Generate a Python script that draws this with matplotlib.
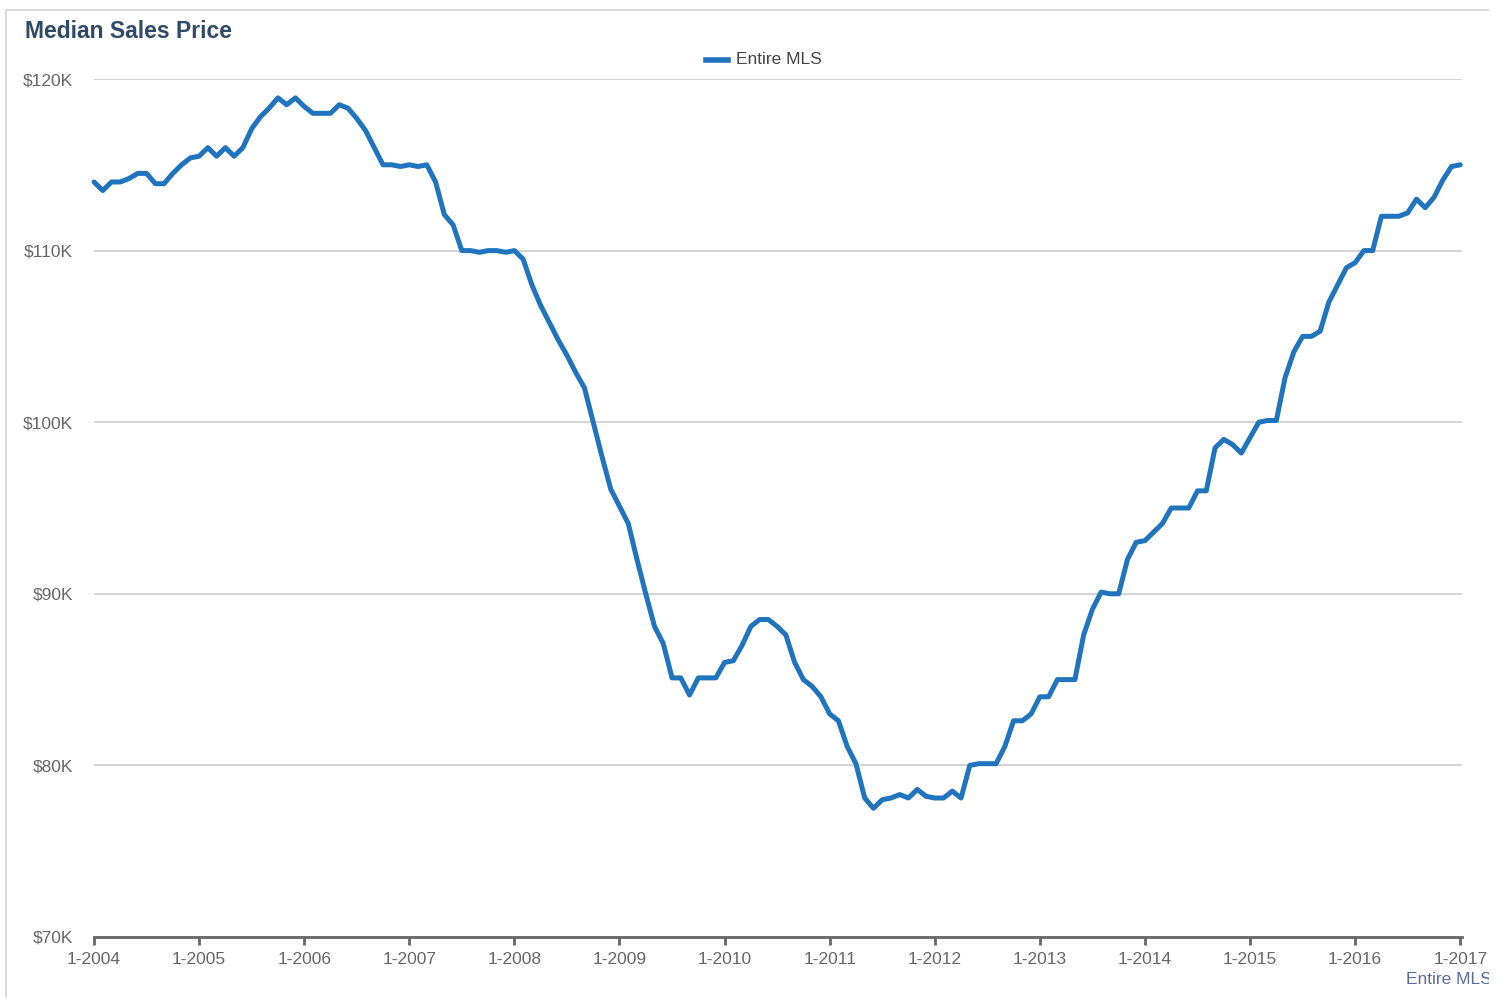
import matplotlib
matplotlib.use("Agg")
import matplotlib.pyplot as plt
from matplotlib.lines import Line2D
from matplotlib.patches import Rectangle
import numpy as np

plt.rcParams['font.family'] = ['Liberation Sans', 'DejaVu Sans']

years = list(range(2004, 2018))
tick_labels = [f"1-{y}" for y in years]
y_ticks = [70, 80, 90, 100, 110, 120]
y_tick_labels = [f"${v}K" for v in y_ticks]

v2004 = [114.0, 113.5, 114.0, 114.0, 114.2, 114.5, 114.5, 113.9, 113.9, 114.5, 115.0, 115.4]
v2005 = [115.5, 116.0, 115.5, 116.0, 115.5, 116.0, 117.1, 117.8, 118.3, 118.9, 118.5, 118.9]
v2006 = [118.4, 118.0, 118.0, 118.0, 118.5, 118.3, 117.7, 117.0, 116.0, 115.0, 115.0, 114.9]
v2007 = [115.0, 114.9, 115.0, 114.0, 112.1, 111.5, 110.0, 110.0, 109.9, 110.0, 110.0, 109.9]
v2008 = [110.0, 109.5, 108.0, 106.8, 105.8, 104.8, 103.9, 102.9, 102.0, 100.0, 98.0, 96.1]
v2009 = [95.1, 94.1, 92.0, 90.0, 88.1, 87.1, 85.1, 85.1, 84.1, 85.1, 85.1, 85.1]
v2010 = [86.0, 86.1, 87.0, 88.1, 88.5, 88.5, 88.1, 87.6, 86.0, 85.0, 84.6, 84.0]
v2011 = [83.0, 82.6, 81.1, 80.1, 78.1, 77.5, 78.0, 78.1, 78.3, 78.1, 78.6, 78.2]
v2012 = [78.1, 78.1, 78.5, 78.1, 80.0, 80.1, 80.1, 80.1, 81.1, 82.6, 82.6, 83.0]
v2013 = [84.0, 84.0, 85.0, 85.0, 85.0, 87.6, 89.1, 90.1, 90.0, 90.0, 92.0, 93.0]
v2014 = [93.1, 93.6, 94.1, 95.0, 95.0, 95.0, 96.0, 96.0, 98.5, 99.0, 98.7, 98.2]
v2015 = [99.1, 100.0, 100.1, 100.1, 102.6, 104.1, 105.0, 105.0, 105.3, 107.0, 108.0, 109.0]
v2016 = [109.3, 110.0, 110.0, 112.0, 112.0, 112.0, 112.2, 113.0, 112.5, 113.1, 114.1, 114.9]
v2017 = [115.0]

values = (v2004 + v2005 + v2006 + v2007 + v2008 + v2009 + v2010 + v2011 +
          v2012 + v2013 + v2014 + v2015 + v2016 + v2017)
months = np.arange(len(values))

W, H = 1506, 999
fig = plt.figure(figsize=(W / 100, H / 100), dpi=100)

# outer frame (left and top visible)
fig.add_artist(Line2D([6 / W, 6 / W], [0.002, 1 - 10 / H], color='#d4d4d4', lw=1.2,
                      transform=fig.transFigure))
fig.add_artist(Line2D([6 / W, 1.0], [1 - 10 / H, 1 - 10 / H], color='#d4d4d4', lw=1.2,
                      transform=fig.transFigure))

left, right = 94 / W, 1462 / W
bottom, top = 1 - 937 / H, 1 - 79 / H
ax = fig.add_axes([left, bottom, right - left, top - bottom])

line_color = '#1f74bd'
ax.plot(months, values, color=line_color, lw=3.6, solid_joinstyle='round',
        solid_capstyle='round', clip_on=False, zorder=3)

ax.set_ylim(70, 120)
ax.set_xlim(0, 156.2)

ax.set_yticks(y_ticks)
ax.set_yticklabels(y_tick_labels)
ax.set_xticks(np.arange(0, 157, 12))
ax.set_xticklabels(tick_labels)

for s in ['top', 'right', 'left']:
    ax.spines[s].set_visible(False)
ax.spines['bottom'].set_color('#666666')
ax.spines['bottom'].set_linewidth(2.0)

ax.yaxis.grid(True, color='#c8c8c8', lw=1.1)
ax.set_axisbelow(True)
ax.tick_params(axis='y', length=0, pad=15, labelsize=12.5, labelcolor='#666666')
ax.tick_params(axis='x', length=6, width=2, color='#666666', pad=5,
               labelsize=12.5, labelcolor='#666666', direction='out')

# title
fig.text(25 / W, 1 - 32 / H, "Median Sales Price", fontsize=16.5, fontweight='bold',
         color='#2f4a66', ha='left', va='center')

# legend
fig.add_artist(Line2D([706 / W, 728 / W], [1 - 60 / H, 1 - 60 / H], color=line_color,
                      lw=4, transform=fig.transFigure))
fig.text(736 / W, 1 - 60 / H, "Entire MLS", fontsize=12.5, color='#444444',
         ha='left', va='center')

# bottom-right label
fig.text(1406 / W, 1 - 979 / H, "Entire MLS", fontsize=12.5, color='#5a6c98',
         ha='left', va='center')

# blank strip at the right edge (content is cut off there)
fig.add_artist(Rectangle((1489 / W, 0), 1 - 1489 / W, 1, transform=fig.transFigure,
                         facecolor='white', edgecolor='none', zorder=20))

fig.savefig("out.png", dpi=100)
